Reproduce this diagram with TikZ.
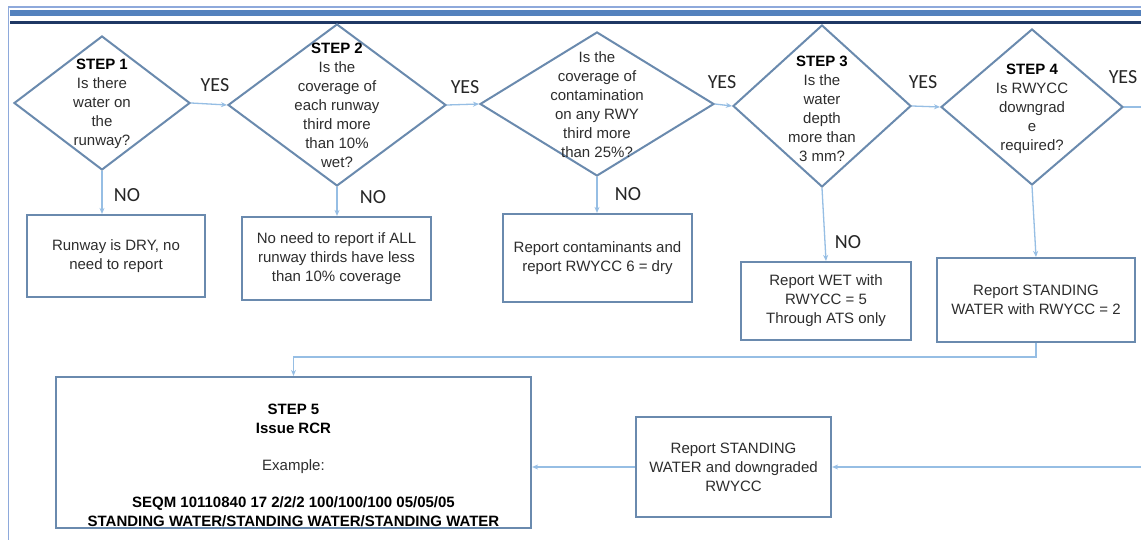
\documentclass[tikz,border=0pt]{standalone}
\usepackage{fontspec}
\setmainfont{Liberation Sans}
\newfontfamily\yesfont{Carlito}
\usetikzlibrary{shapes.geometric,arrows.meta}
\definecolor{shapeblue}{RGB}{106,138,174}
\definecolor{connblue}{RGB}{150,190,228}
\definecolor{txtgray}{RGB}{45,45,45}
\definecolor{framelight}{RGB}{142,169,219}
\definecolor{bandblue}{RGB}{84,130,190}
\definecolor{navyline}{RGB}{31,56,100}
\begin{document}
\begin{tikzpicture}[x=1pt,y=-1pt,
  dia/.style={diamond, draw=shapeblue, line width=2pt, inner sep=0pt},
  dtext/.style={align=center, font=\fontsize{15}{19}\selectfont, text=txtgray, inner sep=0pt},
  box/.style={rectangle, draw=shapeblue, line width=2.2pt, align=center, inner sep=0pt,
              font=\fontsize{15}{19}\selectfont, text=txtgray},
  conn/.style={draw=connblue, line width=1.3pt, -{Stealth[length=6pt,width=5pt]}},
  plain/.style={draw=connblue, line width=1.3pt},
  yn/.style={font=\yesfont\fontsize{20}{22}\selectfont, text=black!85, inner sep=0pt}]
\useasboundingbox (0,0) rectangle (1141,540);
\clip (0,0) rectangle (1141,540);
\fill[white] (0,0) rectangle (1141,540);
% frame and header band
\draw[framelight, line width=1.6pt] (8.5,540) -- (8.5,7) -- (1141,7);
\fill[bandblue] (9.5,10) rectangle (1141,16.5);
\fill[navyline] (9.5,21.5) rectangle (1141,24.5);

% diamonds
\node[dia, minimum width=176pt, minimum height=134pt] (d1) at (102,103) {};
\node[dia, minimum width=218pt, minimum height=162pt] (d2) at (337,105) {};
\node[dia, minimum width=234pt, minimum height=144pt] (d3) at (597,104) {};
\node[dia, minimum width=178pt, minimum height=162pt] (d4) at (822,106) {};
\node[dia, minimum width=182pt, minimum height=156pt] (d5) at (1032,107) {};

\node[dtext] (t1) at (102,104) {\textbf{\color{black}STEP 1}\\Is there\\water on\\the\\runway?};
\node[dtext] (t2) at (337,105) {\textbf{\color{black}STEP 2}\\Is the\\coverage of\\each runway\\third more\\than 10\%\\wet?};
\node[dtext] (t3) at (597,105) {Is the\\coverage of\\contamination\\on any RWY\\third more\\than 25\%?};
\node[dtext] (t4) at (822,108.5) {\textbf{\color{black}STEP 3}\\Is the\\water\\depth\\more than\\3 mm?};
\node[dtext] (t5) at (1032,108.5) {\textbf{\color{black}STEP 4}\\Is RWYCC\\downgrad\\e\\required?};

% boxes
\node[box, minimum width=178pt, minimum height=82pt] (b1) at (116,256) {Runway is DRY, no\\need to report};
\node[box, minimum width=189pt, minimum height=83pt] (b2) at (336.5,258.5) {No need to report if ALL\\runway thirds have less\\than 10\% coverage};
\node[box, minimum width=189pt, minimum height=88pt] (b3) at (597.5,258) {Report contaminants and\\report RWYCC 6 = dry};
\node[box, minimum width=170pt, minimum height=78pt] (b4) at (826,301) {Report WET with\\RWYCC = 5\\Through ATS only};
\node[box, minimum width=198pt, minimum height=84pt] (b5) at (1036,300) {Report STANDING\\WATER with RWYCC = 2};
\node[box, minimum width=475pt, minimum height=151pt] (s5) at (293.5,452.5) {};
\node[dtext] (s5t) at (293.5,465) {\textbf{\color{black}STEP 5}\\\textbf{\color{black}Issue RCR}\\[18pt]Example:\\[18pt]\textbf{\color{black}SEQM 10110840 17 2/2/2 100/100/100 05/05/05}\\\textbf{\color{black}STANDING WATER/STANDING WATER/STANDING WATER}};
\node[box, minimum width=195pt, minimum height=100pt] (b6) at (733.5,467) {Report STANDING\\WATER and downgraded\\RWYCC};

% YES / NO labels
\node[yn] (y1) at (215,85) {YES};
\node[yn] (y2) at (465,87) {YES};
\node[yn] (y3) at (722,82) {YES};
\node[yn] (y4) at (923,82) {YES};
\node[yn] (y5) at (1123,77) {YES};
\node[yn] (n1) at (127,195) {NO};
\node[yn] (n2) at (373,197) {NO};
\node[yn] (n3) at (628,194) {NO};
\node[yn] (n4) at (848,242) {NO};

% connectors
\draw[conn] (d1.east) -- (d2.west);
\draw[conn] (d2.east) -- (d3.west);
\draw[conn] (d3.east) -- (d4.west);
\draw[conn] (d4.east) -- (d5.west);
\draw[conn] (d1.south) -- (d1.south |- b1.north);
\draw[conn] (d2.south) -- (d2.south |- b2.north);
\draw[conn] (d3.south) -- (d3.south |- b3.north);
\draw[conn] (d4.south) -- (b4.north);
\draw[conn] (d5.south) -- (b5.north);
\coordinate (offR) at (1160,107);
\draw[conn] (d5.east) -- (offR) |- (b6.east);
\coordinate (jn) at (0,357);
\draw[conn] (b5.south) -- (b5.south |- jn) -| (s5.north);
\draw[conn] (b6.west) -- (b6.west -| s5.east);
\end{tikzpicture}
\end{document}
